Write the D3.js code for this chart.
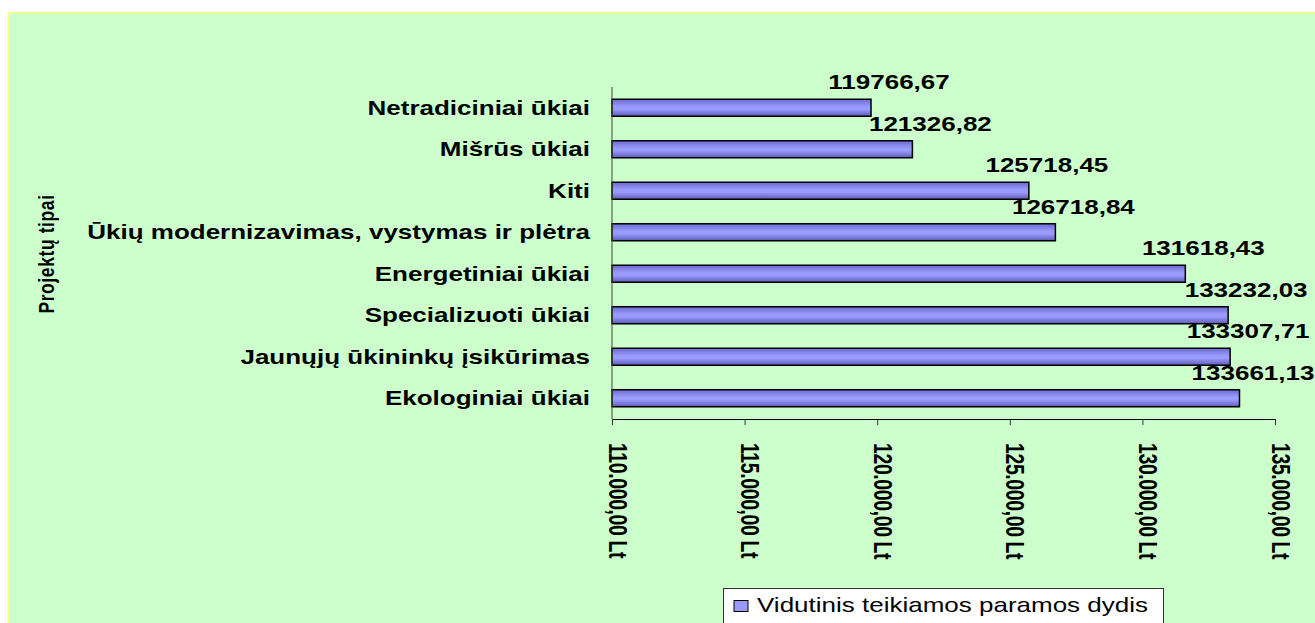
<!DOCTYPE html>
<html>
<head>
<meta charset="utf-8">
<script src="https://cdn.jsdelivr.net/npm/d3@7"></script>
<style>
  body { margin: 0; background: #fff; }
  text { font-family: "Liberation Sans", Arial, sans-serif; fill: #000; }
</style>
</head>
<body>
<div id="plot"></div>
<script>
// chart data
const categories = [
  "Netradiciniai ūkiai",
  "Mišrūs ūkiai",
  "Kiti",
  "Ūkių modernizavimas, vystymas ir plėtra",
  "Energetiniai ūkiai",
  "Specializuoti ūkiai",
  "Jaunųjų ūkininkų įsikūrimas",
  "Ekologiniai ūkiai"
];
const values = [119766.67, 121326.82, 125718.45, 126718.84, 131618.43, 133232.03, 133307.71, 133661.13];
const valueLabels = ["119766,67", "121326,82", "125718,45", "126718,84", "131618,43", "133232,03", "133307,71", "133661,13"];
const xTicks = [110000, 115000, 120000, 125000, 130000, 135000];
const seriesName = "Vidutinis teikiamos paramos dydis";
const axisTitle = "Projektų tipai";

const w = 1315;
const h = 623;
const sx = 1.3; // the original picture is stretched sideways

const lt = d3.formatLocale({decimal: ",", thousands: ".", grouping: [3], currency: ["", " Lt"]});
const money = lt.format("$,.2f");

const xScale = d3.scaleLinear().domain([110000, 135000]).range([612, 1275]);
const yScale = d3.scaleBand().domain(categories).range([87, 419])
  .paddingInner(0.59).paddingOuter(0.295);

const svg = d3.select("#plot").append("svg")
  .attr("width", w).attr("height", h);

const defs = svg.append("defs");
const grad = defs.append("linearGradient").attr("id", "barGrad")
  .attr("x1", 0).attr("y1", 0).attr("x2", 0).attr("y2", 1);
grad.append("stop").attr("offset", "0%").attr("stop-color", "#6a6acc");
grad.append("stop").attr("offset", "45%").attr("stop-color", "#9c9cff");
grad.append("stop").attr("offset", "60%").attr("stop-color", "#9999ff");
grad.append("stop").attr("offset", "100%").attr("stop-color", "#5c5cb4");

// background
svg.append("rect")
  .attr("x", 8.5).attr("y", 12.5)
  .attr("width", w).attr("height", h)
  .attr("fill", "#ccffcc")
  .attr("stroke", "#ffff88")
  .attr("stroke-width", 1.5);

// bars
svg.selectAll("rect.bar")
  .data(values)
  .enter()
  .append("rect")
  .attr("class", "bar")
  .attr("x", xScale(110000))
  .attr("y", (d, i) => yScale(categories[i]))
  .attr("width", d => xScale(d) - xScale(110000))
  .attr("height", yScale.bandwidth())
  .attr("fill", "url(#barGrad)")
  .attr("stroke", "#000")
  .attr("stroke-width", 1.5);

// axes
const xAxis = d3.axisBottom(xScale).tickValues(xTicks).tickSize(6).tickFormat(money);
const gx = svg.append("g")
  .attr("transform", "translate(0,419)")
  .call(xAxis);
gx.select(".domain").attr("stroke", "#000");
gx.selectAll(".tick line").attr("stroke", "#333");
gx.selectAll(".tick text")
  .attr("x", null).attr("y", null).attr("dy", null)
  .attr("text-anchor", "start")
  .attr("transform", "translate(-4,24) scale(" + sx + ",1) rotate(90)")
  .style("font-size", "19.5px")
  .style("font-weight", "bold")
  .style("letter-spacing", "-0.4px")
  .attr("fill", "#000");

svg.append("line")
  .attr("x1", xScale(110000)).attr("x2", xScale(110000))
  .attr("y1", 87).attr("y2", 419)
  .attr("stroke", "#444").attr("stroke-width", 1);

// category labels
svg.selectAll("text.cat")
  .data(categories)
  .enter()
  .append("text")
  .attr("class", "cat")
  .attr("text-anchor", "end")
  .attr("transform", d => "translate(590," + (yScale(d) + yScale.bandwidth() / 2 + 7) + ") scale(" + sx + ",1)")
  .style("font-size", "20px")
  .style("font-weight", "bold")
  .text(d => d);

// value labels, kept inside the right edge
svg.selectAll("text.val")
  .data(values)
  .enter()
  .append("text")
  .attr("class", "val")
  .attr("text-anchor", "middle")
  .attr("transform", (d, i) => "translate(" + Math.min(xScale(d) + 18, 1253) + "," + (yScale(categories[i]) - 10) + ") scale(" + sx + ",1)")
  .style("font-size", "20px")
  .style("font-weight", "bold")
  .text((d, i) => valueLabels[i]);

// axis title
svg.append("text")
  .attr("text-anchor", "middle")
  .attr("transform", "translate(54,254) scale(" + sx + ",1) rotate(-90)")
  .style("font-size", "17.5px")
  .style("font-weight", "bold")
  .style("letter-spacing", "0.6px")
  .text(axisTitle);

// legend
const legend = svg.append("g").attr("id", "legend");
legend.append("rect")
  .attr("x", 723.5).attr("y", 588.5)
  .attr("width", 440).attr("height", 60)
  .attr("fill", "#fff")
  .attr("stroke", "#333");
legend.append("rect")
  .attr("x", 734).attr("y", 600.5)
  .attr("width", 14).attr("height", 11)
  .attr("fill", "#9999ff")
  .attr("stroke", "#000");
legend.append("text")
  .attr("transform", "translate(757,612) scale(" + sx + ",1)")
  .style("font-size", "20px")
  .text(seriesName);
</script>
</body>
</html>
